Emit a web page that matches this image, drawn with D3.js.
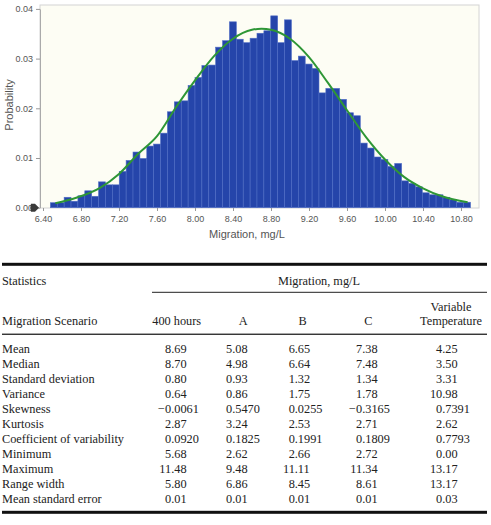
<!DOCTYPE html>
<html>
<head>
<meta charset="utf-8">
<script src="https://cdn.jsdelivr.net/npm/d3@7"></script>
<style>
html,body{margin:0;padding:0;background:#fff;}
svg{display:block;}
</style>
</head>
<body>
<svg id="c" width="491" height="525"></svg>
<script>
// ---------- DATA ----------
const binStart = 6.4775;
const binWidth = 0.0725;
const probs = [0.0010,0.0010,0.0021,0.0013,0.0024,0.0034,0.0023,0.0052,0.0046,0.0046,
  0.0073,0.0095,0.0112,0.0099,0.0124,0.0128,0.0150,0.0193,0.0213,0.0215,
  0.0246,0.0262,0.0286,0.0287,0.0323,0.0336,0.0374,0.0339,0.0332,0.0341,
  0.0351,0.0356,0.0386,0.0332,0.0378,0.0296,0.0305,0.0289,0.0280,0.0231,
  0.0240,0.0240,0.0218,0.0191,0.0185,0.0130,0.0120,0.0102,0.0097,0.0083,
  0.0089,0.0054,0.0049,0.0042,0.0030,0.0026,0.0026,0.0021,0.0016,0.0011,0.0011];
const fitX = [6.53,6.75,7.00,7.20,7.40,7.60,7.80,8.00,8.20,8.40,8.60,8.70,8.80,9.00,9.20,9.40,9.60,9.80,10.00,10.20,10.40,10.60,10.87];
const fitY = [0.0009,0.0020,0.0040,0.0068,0.0108,0.0144,0.0202,0.0256,0.0305,0.0340,0.0358,0.0360,0.0358,0.0340,0.0303,0.0251,0.0196,0.0142,0.0097,0.0062,0.0039,0.0023,0.0011];
const xTicks = [6.40,6.80,7.20,7.60,8.00,8.40,8.80,9.20,9.60,10.00,10.40,10.80];
const yTicks = [0.00,0.01,0.02,0.03,0.04];
const xTitle = "Migration, mg/L";
const yTitle = "Probability";

const statNames = ["Mean","Median","Standard deviation","Variance","Skewness","Kurtosis",
  "Coefficient of variability","Minimum","Maximum","Range width","Mean standard error"];
const colHours = ["8.69","8.70","0.80","0.64","\u22120.0061","2.87","0.0920","5.68","11.48","5.80","0.01"];
const colA     = ["5.08","4.98","0.93","0.86","0.5470","3.24","0.1825","2.62","9.48","6.86","0.01"];
const colB     = ["6.65","6.64","1.32","1.75","0.0255","2.53","0.1991","2.66","11.11","8.45","0.01"];
const colC     = ["7.38","7.48","1.34","1.78","\u22120.3165","2.71","0.1809","2.72","11.34","8.61","0.01"];
const colVT    = ["4.25","3.50","3.31","10.98","0.7391","2.62","0.7793","0.00","13.17","13.17","0.03"];
const scenarioHeads = ["400 hours","A","B","C","Temperature"];

// ---------- CHART ----------
const svg = d3.select("#c");
const sans = "'Liberation Sans', Arial, sans-serif";
const serif = "'Liberation Serif', 'Times New Roman', serif";

const x = d3.scaleLinear().domain([6.40,10.80]).range([43,461]);
const y = d3.scaleLinear().domain([0,0.04]).range([207.7,8.9]);
const plot = {l:40, r:479, t:5, b:208};

svg.append("rect").attr("x",plot.l).attr("y",plot.t)
  .attr("width",plot.r-plot.l).attr("height",plot.b-plot.t)
  .attr("fill","#fdfdf4").attr("stroke","#d4d4d4").attr("stroke-width",1);

svg.append("g").selectAll("rect").data(probs).join("rect")
  .attr("x",(d,i)=>x(binStart+i*binWidth))
  .attr("width",(d,i)=>x(binStart+(i+1)*binWidth)-x(binStart+i*binWidth))
  .attr("y",d=>y(d))
  .attr("height",d=>y(0)-y(d))
  .attr("fill","#2545aa")
  .attr("stroke","#4f6dc5")
  .attr("stroke-width",0.6);

const line = d3.line().x(d=>x(d[0])).y(d=>y(d[1])).curve(d3.curveMonotoneX);
svg.append("path").datum(fitX.map((v,i)=>[v,fitY[i]]))
  .attr("d",line).attr("fill","none").attr("stroke","#2e9636").attr("stroke-width",2);

// axes
const xAxis = d3.axisBottom(x).tickValues(xTicks).tickFormat(d3.format(".2f")).tickSize(3).tickSizeOuter(0);
const gx = svg.append("g").attr("transform",`translate(0,${plot.b})`).call(xAxis);
gx.select(".domain").remove();
gx.selectAll("line").attr("stroke","#999");
gx.selectAll("text").attr("font-family",sans).attr("font-size",9).attr("fill","#555").attr("dy","0.9em");

const yAxis = d3.axisLeft(y).tickValues(yTicks).tickFormat(d3.format(".2f")).tickSize(4).tickSizeOuter(0);
const gy = svg.append("g").attr("transform",`translate(${plot.l},0)`).call(yAxis);
gy.select(".domain").attr("stroke","#aaa");
gy.selectAll("line").attr("stroke","#999");
gy.selectAll("text").attr("font-family",sans).attr("font-size",9).attr("fill","#555").attr("x",-7);

// certainty grabber marker at 0.00
svg.append("path")
  .attr("d",`M31,${y(0)-4} L35,${y(0)-4} L39,${y(0)} L35,${y(0)+4} L31,${y(0)+4} Q29.5,${y(0)} 31,${y(0)-4} Z`)
  .attr("fill","#3a3a3a");

svg.append("text").attr("x",247).attr("y",238).attr("text-anchor","middle")
  .attr("font-family",sans).attr("font-size",11).attr("fill","#555").text(xTitle);
svg.append("text").attr("transform","translate(13,105) rotate(-90)").attr("text-anchor","middle")
  .attr("font-family",sans).attr("font-size",11).attr("fill","#555").text(yTitle);

// ---------- TABLE ----------
const T = svg.append("g").attr("font-family",serif).attr("font-size",12.3).attr("fill","#222");
const L = 2, R = 487;
T.append("rect").attr("x",L).attr("y",262.8).attr("width",R-L).attr("height",3).attr("fill","#111");
T.append("text").attr("x",L).attr("y",285).text("Statistics");
T.append("text").attr("x",319).attr("y",285).attr("text-anchor","middle").text(xTitle);
T.append("rect").attr("x",152).attr("y",291.8).attr("width",R-152).attr("height",1).attr("fill","#222");
T.append("text").attr("x",L).attr("y",325).text("Migration Scenario");
const headX = [176.7,243.3,302.7,368.3,451];
T.selectAll("text.h").data(scenarioHeads).join("text").attr("class","h")
  .attr("x",(d,i)=>headX[i]).attr("y",325).attr("text-anchor","middle").text(d=>d);
T.append("text").attr("x",451).attr("y",311).attr("text-anchor","middle").text("Variable");
T.append("rect").attr("x",L).attr("y",333.6).attr("width",R-L).attr("height",1.3).attr("fill","#222");

const rowY = i => 353 + i*15;
T.selectAll("text.r").data(statNames).join("text").attr("class","r")
  .attr("x",L).attr("y",(d,i)=>rowY(i)).text(d=>d);

const cols = [colHours,colA,colB,colC,colVT];
const decX = [171.2,232.2,294.8,362.2,442.2];
cols.forEach((col,ci)=>{
  col.forEach((v,ri)=>{
    const k = v.indexOf(".");
    T.append("text").attr("x",decX[ci]).attr("y",rowY(ri)).attr("text-anchor","end").text(v.slice(0,k));
    T.append("text").attr("x",decX[ci]).attr("y",rowY(ri)).attr("text-anchor","start").text(v.slice(k));
  });
});
T.append("rect").attr("x",L).attr("y",510.8).attr("width",R-L).attr("height",3).attr("fill","#111");
</script>
</body>
</html>
